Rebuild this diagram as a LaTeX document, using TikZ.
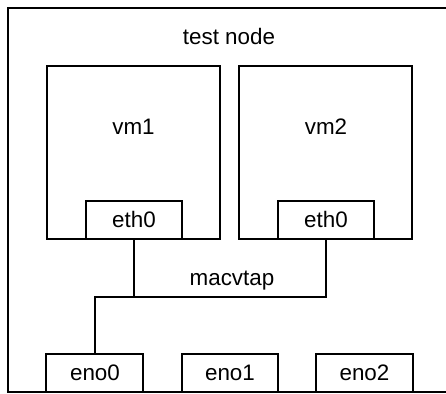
\documentclass[tikz,border=0pt]{standalone}
\usepackage{fontspec}
\setmainfont{Liberation Sans}
\usetikzlibrary{positioning}

\tikzset{
  box/.style={draw, line width=1pt, inner sep=0pt, minimum height=19pt},
  vmbox/.style={draw, line width=1pt, minimum width=86.5pt, minimum height=86.5pt},
  wire/.style={line width=1pt}
}

\begin{document}
\begin{tikzpicture}[x=0.5pt, y=-0.5pt, font=\fontsize{11.2}{13.4}\selectfont]
    \clip (0,0) rectangle (446,394);
    \fill[white] (0,0) rectangle (446,394);

    % host frame, cut off on the right
    \draw[line width=1pt] (8,8) rectangle (470,392);
    \node (host) at (229,37) {test node};

    % the two guests
    \node[vmbox] (vm1) at (133.5,152.5) {};
    \node[vmbox] (vm2) at (326,152.5) {};
    \node (vm1lbl) at (133.5,127) {vm1};
    \node (vm2lbl) at (326,127) {vm2};

    \node[box, minimum width=48pt, fill=white] (eth0a) at (134,220) {eth0};
    \node[box, minimum width=48pt, fill=white] (eth0b) at (326,220) {eth0};

    % physical ports
    \node[box, minimum width=48.5pt] (eno0) at (95,373) {eno0};
    \node[box, minimum width=48pt] (eno1) at (230,373) {eno1};
    \node[box, minimum width=48.5pt] (eno2) at (364.5,373) {eno2};

    \coordinate (tap) at (134,297);
    \draw[wire] (eth0a.south) -- (tap) -| (eno0.north);
    \draw[wire] (eth0b.south) |- (tap);
    \node (macvtap) at (232,281) {macvtap};

\end{tikzpicture}
\end{document}
